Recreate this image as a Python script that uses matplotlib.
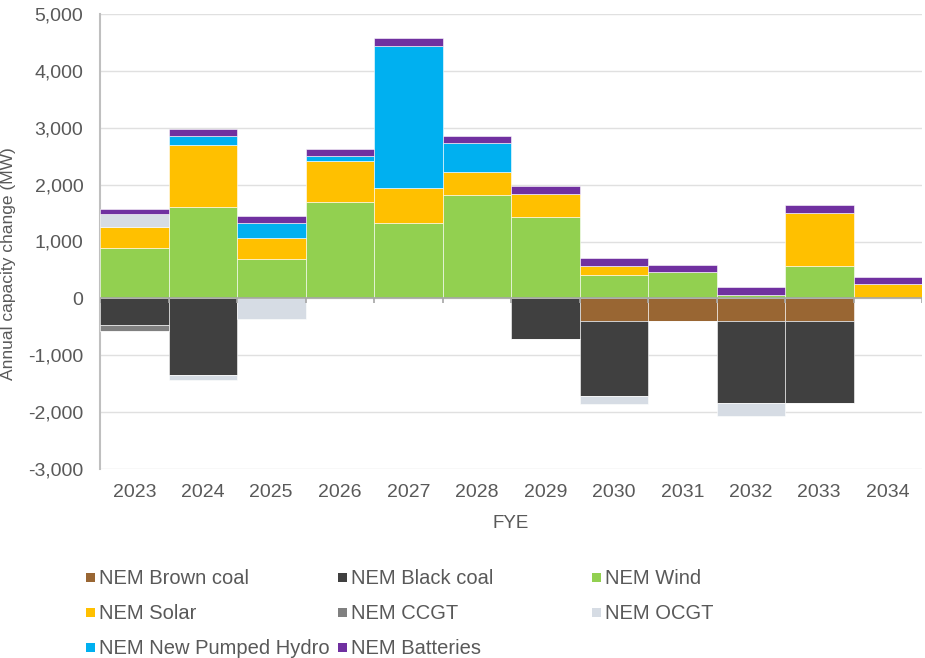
import matplotlib
matplotlib.use("Agg")
import matplotlib.pyplot as plt
from matplotlib.patches import Rectangle
import numpy as np

plt.rcParams['font.family'] = ['Liberation Sans', 'DejaVu Sans']

years = ["2023", "2024", "2025", "2026", "2027", "2028", "2029", "2030", "2031", "2032", "2033", "2034"]
brown_coal = [0, 0, 0, 0, 0, 0, 0, -400, -400, -400, -400, 0]
black_coal = [-470, -1355, 0, 0, 0, 0, -710, -1320, 0, -1435, -1435, 0]
wind = [880, 1600, 700, 1700, 1320, 1810, 1430, 405, 460, 65, 565, 0]
solar = [370, 1090, 360, 710, 620, 420, 410, 170, 0, 0, 940, 250]
ccgt = [-105, 0, 0, 0, 0, 0, 0, 0, 0, 0, 0, 0]
ocgt_pos = [230, 0, 0, 0, 0, 0, 0, 0, 0, 0, 0, 0]
ocgt_neg = [0, -85, -360, 0, 0, 0, 0, -135, 0, -225, 0, 0]
pumped_hydro = [0, 160, 270, 95, 2500, 500, 0, 0, 0, 0, 0, 0]
batteries = [100, 125, 125, 115, 140, 130, 130, 135, 135, 135, 140, 125]

colors = {
    "NEM Brown coal": "#996633",
    "NEM Black coal": "#404040",
    "NEM Wind": "#92D050",
    "NEM Solar": "#FFC000",
    "NEM CCGT": "#808080",
    "NEM OCGT": "#D6DCE4",
    "NEM New Pumped Hydro": "#00B0F0",
    "NEM Batteries": "#7030A0",
}

TXT = "#595959"
W, H = 925, 658
fig = plt.figure(figsize=(W / 100, H / 100), dpi=100)
ax = fig.add_axes([100 / W, 1 - 469 / H, (922 - 100) / W, (469 - 14) / H])

x = np.arange(len(years))
pos_base = np.zeros(len(years))
neg_base = np.zeros(len(years))

def stack(vals, name, positive):
    global pos_base, neg_base
    v = np.array(vals, dtype=float)
    if positive:
        ax.bar(x, v, width=1.0, bottom=pos_base, color=colors[name],
               edgecolor="white", linewidth=0.4, zorder=3)
        pos_base = pos_base + v
    else:
        ax.bar(x, v, width=1.0, bottom=neg_base, color=colors[name],
               edgecolor="white", linewidth=0.4, zorder=3)
        neg_base = neg_base + v

# negative stack (Excel series order)
stack(brown_coal, "NEM Brown coal", False)
stack(black_coal, "NEM Black coal", False)
stack(ccgt, "NEM CCGT", False)
stack(ocgt_neg, "NEM OCGT", False)
# positive stack
stack(wind, "NEM Wind", True)
stack(solar, "NEM Solar", True)
stack(ocgt_pos, "NEM OCGT", True)
stack(pumped_hydro, "NEM New Pumped Hydro", True)
stack(batteries, "NEM Batteries", True)

ax.set_xlim(-0.5, len(years) - 0.5)
ax.set_ylim(-3000, 5000)
ax.set_yticks(np.arange(-3000, 5001, 1000))
ax.yaxis.set_major_formatter(matplotlib.ticker.FuncFormatter(lambda v, p: f"{int(v):,}"))
ax.grid(axis="y", color="#E0E0E0", linewidth=1, zorder=0)
ax.set_xticks(x)
ax.set_xticklabels(years)
ax.tick_params(axis="both", length=0, labelsize=14, labelcolor=TXT)
ax.tick_params(axis="x", pad=11)
ax.tick_params(axis="y", pad=12)
for s in ["top", "right", "bottom"]:
    ax.spines[s].set_visible(False)
ax.spines["left"].set_color("#BFBFBF")
ax.spines["left"].set_linewidth(1.5)
ax.axhline(0, color="#A6A6A6", linewidth=1.2, zorder=4)
# category boundary tick marks on zero line
ax.vlines(np.arange(len(years) + 1) - 0.5, 0, -90, color="#A6A6A6", linewidth=1.2, zorder=4)

fig.text(9 / W, 1 - 264 / H, "Annual capacity change (MW)", rotation=90, fontsize=12.5,
         color=TXT, ha="center", va="center")
fig.text(511 / W, 1 - 523 / H, "FYE", fontsize=13.5, color=TXT, ha="center", va="center")

# legend (manual grid layout)
legend_layout = [
    ["NEM Brown coal", "NEM Black coal", "NEM Wind"],
    ["NEM Solar", "NEM CCGT", "NEM OCGT"],
    ["NEM New Pumped Hydro", "NEM Batteries"],
]
col_x = [86, 338, 592]
row_y = [577, 612, 647]
for r, row in enumerate(legend_layout):
    for c, name in enumerate(row):
        px, py = col_x[c], row_y[r]
        fig.patches.append(Rectangle((px / W, 1 - (py + 4.5) / H), 9 / W, 9 / H,
                                     transform=fig.transFigure, facecolor=colors[name],
                                     edgecolor="none"))
        fig.text((px + 13) / W, 1 - (py + 1.5) / H, name, fontsize=14.5, color=TXT,
                 va="center", ha="left")

fig.savefig("out.png", dpi=100)
